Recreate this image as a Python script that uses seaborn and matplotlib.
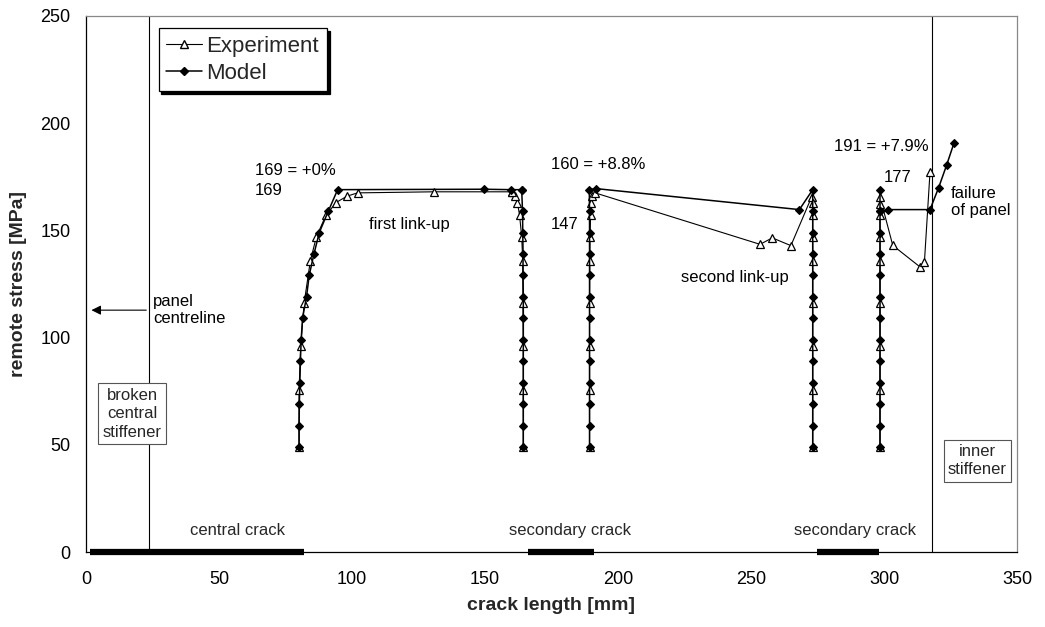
import pandas as pd
import matplotlib
matplotlib.use("Agg")
import matplotlib.pyplot as plt
import seaborn as sns
from matplotlib.lines import Line2D

# Model (filled diamonds), one list pair per connected segment
model_a_x = [80.1, 80.1, 80.2, 80.4, 80.6, 80.9, 81.4, 82.9, 83.9, 85.7, 87.7, 91.1, 94.6, 149.8, 159.6, 163.8]
model_a_y = [49, 59, 69, 79, 89, 99, 109, 119, 129, 139, 149, 159, 169, 169.2, 169, 169]
model_b_x = [164.4, 164.4, 164.4, 164.4, 164.4, 164.4, 164.4, 164.4, 164.3, 164.3, 164.2, 164.1, 163.8]
model_b_y = [49, 59, 69, 79, 89, 99, 109, 119, 129, 139, 149, 159, 169]
model_c_x = [189.3, 189.3, 189.3, 189.3, 189.3, 189.3, 189.3, 189.3, 189.3, 189.3, 189.3, 189.3, 189.2, 191.7,
             268.2, 273.2, 273.2, 273.2, 273.2, 273.2, 273.2, 273.2, 273.2, 273.2, 273.2, 273.2, 273.2, 273.2]
model_c_y = [49, 59, 69, 79, 89, 99, 109, 119, 129, 139, 149, 159, 169, 169.5,
             159.7, 169, 159, 149, 139, 129, 119, 109, 99, 89, 79, 69, 59, 49]
model_d_x = [298.5, 298.5, 298.5, 298.5, 298.5, 298.5, 298.5, 298.5, 298.5, 298.5, 298.5, 298.5, 298.5]
model_d_y = [49, 59, 69, 79, 89, 99, 109, 119, 129, 139, 149, 159, 169]
model_e_x = [298.5, 301.6, 317.3, 320.5, 323.5, 326.3]
model_e_y = [159, 159.7, 159.7, 169.8, 180.3, 190.7]

# Experiment (open triangles)
exp_a_x = [80.1, 80.1, 80.7, 82.0, 84.3, 86.6, 90.2, 94.0, 98.2, 102.1, 130.8, 160.0]
exp_a_y = [49, 75.5, 96, 116, 135.5, 147, 157, 163, 166, 167.5, 168, 168]
exp_b_x = [164.4, 164.4, 164.4, 164.3, 164.2, 163.8, 163.0, 162.2, 161.2, 160.0]
exp_b_y = [49, 75.5, 96, 116, 135.5, 147, 157, 163, 166, 168]
exp_c_x = [189.3, 189.3, 189.3, 189.3, 189.4, 189.5, 189.7, 190.0, 190.4, 191.4, 253.4, 258.0, 265.0,
           272.8, 273.2, 273.2, 273.2, 273.2, 273.2, 273.2, 273.2, 273.2]
exp_c_y = [49, 75.5, 96, 116, 135.5, 147, 157, 163, 166, 167.5, 143.5, 146.5, 142.9,
           165.6, 163, 157, 147, 135.5, 116, 96, 75.5, 49]
exp_d_x = [298.5, 298.5, 298.5, 298.5, 298.5, 298.5, 298.5, 298.5, 298.5, 303.3, 313.5, 315.2, 317.3]
exp_d_y = [49, 75.5, 96, 116, 135.5, 147, 157, 162.5, 165.6, 143, 133, 135.3, 177.2]

# cracks drawn on the x axis
crack_start = [1.5, 166, 275]
crack_end = [82, 191, 298]
crack_names = ["central crack", "secondary crack", "secondary crack"]
crack_label_x = [57, 182, 289]

stiffener_x = [23.7, 318]


def segs(parts):
    rows = []
    for i, (xs, ys) in enumerate(parts):
        for x, y in zip(xs, ys):
            rows.append({"x": x, "y": y, "seg": i})
    return pd.DataFrame(rows)


model_df = segs([(model_a_x, model_a_y), (model_b_x, model_b_y), (model_c_x, model_c_y),
                 (model_d_x, model_d_y), (model_e_x, model_e_y)])
exp_df = segs([(exp_a_x, exp_a_y), (exp_b_x, exp_b_y), (exp_c_x, exp_c_y), (exp_d_x, exp_d_y)])

sns.set_style("white")
plt.rcParams["font.family"] = ["Liberation Sans", "DejaVu Sans"]

fig = plt.figure(figsize=(10.45, 6.27), dpi=100)
ax = fig.add_axes([0.0823, 0.1196, 0.8909, 0.8549])

# stiffener lines
for sx in stiffener_x:
    ax.axvline(sx, color="black", lw=0.8, zorder=1)

sns.lineplot(data=exp_df, x="x", y="y", units="seg", estimator=None, sort=False,
             color="black", lw=0.8, marker="^", markersize=6.3, markerfacecolor="white",
             markeredgecolor="black", markeredgewidth=0.9, legend=False, ax=ax, zorder=3)
sns.lineplot(data=model_df, x="x", y="y", units="seg", estimator=None, sort=False,
             color="black", lw=1.1, marker="D", markersize=4.5, markerfacecolor="black",
             markeredgecolor="black", markeredgewidth=0.8, legend=False, ax=ax, zorder=4)

# crack bars
ax.hlines([0, 0, 0], crack_start, crack_end, colors="black", lw=4.5, zorder=5, clip_on=False)
for lx, name in zip(crack_label_x, crack_names):
    ax.text(lx, 10, name, ha="center", va="center", fontsize=12)

ax.set_xlim(0, 350)
ax.set_ylim(0, 250)
ax.set_xticks(range(0, 351, 50))
ax.set_yticks(range(0, 251, 50))
ax.tick_params(axis="both", direction="out", length=5, width=0.8, colors="black", labelsize=13)
ax.tick_params(axis="y", pad=6)
ax.tick_params(axis="x", pad=9)
ax.set_xlabel("crack length [mm]", fontsize=14, fontweight="bold", labelpad=6)
ax.set_ylabel("remote stress [MPa]", fontsize=14, fontweight="bold", labelpad=10)

for side in ["left", "bottom"]:
    ax.spines[side].set_color("black")
    ax.spines[side].set_linewidth(0.9)
for side in ["top", "right"]:
    ax.spines[side].set_color("#888888")
    ax.spines[side].set_linewidth(0.9)

# annotations
ann = dict(fontsize=12, color="black")
ax.text(63.5, 178, "169 = +0%", ha="left", va="center", **ann)
ax.text(63.5, 168.7, "169", ha="left", va="center", **ann)
ax.text(106.4, 152.7, "first link-up", ha="left", va="center", **ann)
ax.text(174.8, 180.6, "160 = +8.8%", ha="left", va="center", **ann)
ax.text(174.8, 152.7, "147", ha="left", va="center", **ann)
ax.text(223.7, 128, "second link-up", ha="left", va="center", **ann)
ax.text(316.9, 188.9, "191 = +7.9%", ha="right", va="center", **ann)
ax.text(310.4, 174.9, "177", ha="right", va="center", **ann)
ax.text(325.2, 163.2, "failure\nof panel", ha="left", va="center", linespacing=1.15, **ann)
ax.text(25.2, 112.8, "panel\ncentreline", ha="left", va="center", linespacing=1.15, **ann)
ax.annotate("", xy=(1.0, 112.8), xytext=(23.7, 112.8),
            arrowprops=dict(arrowstyle="-|>", color="black", lw=0.8, mutation_scale=14))

box = dict(boxstyle="square,pad=0.25", fc="white", ec="#555555", lw=0.8)
ax.text(17.3, 64.5, "broken\ncentral\nstiffener", ha="center", va="center", fontsize=12,
        linespacing=1.3, bbox=box, zorder=6)
ax.text(335.1, 42.6, "inner\nstiffener", ha="center", va="center", fontsize=12,
        linespacing=1.3, bbox=box, zorder=6)

handles = [
    Line2D([], [], color="black", lw=0.8, marker="^", markersize=6, markerfacecolor="white",
           markeredgecolor="black"),
    Line2D([], [], color="black", lw=1.1, marker="D", markersize=4.3, markerfacecolor="black",
           markeredgecolor="black"),
]
leg = ax.legend(handles, ["Experiment", "Model"], loc="upper left", bbox_to_anchor=(0.078, 0.977),
                fontsize=16, frameon=True, fancybox=False, shadow={"color": "black", "alpha": 1},
                handlelength=1.6, handletextpad=0.2, borderpad=0.35, labelspacing=0.25,
                borderaxespad=0)
leg.get_frame().set_edgecolor("black")
leg.get_frame().set_linewidth(0.9)

fig.savefig("out.png", dpi=100)
